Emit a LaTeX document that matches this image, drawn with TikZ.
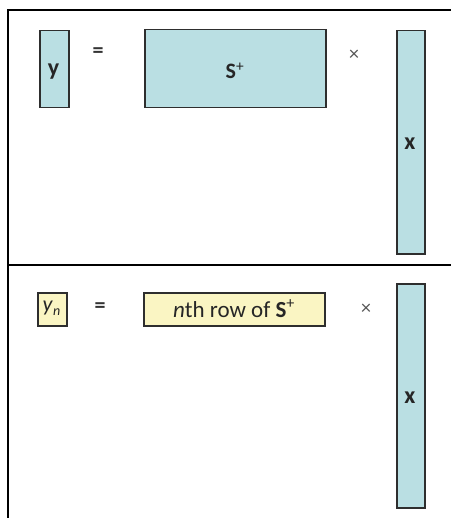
\documentclass[tikz,border=0pt]{standalone}
\usepackage{fontspec}
\setmainfont{Carlito}
\definecolor{matblue}{HTML}{BADFE3}
\definecolor{rowyel}{HTML}{FAF5C3}
\definecolor{edge}{HTML}{2E2E2E}
\definecolor{opgray}{HTML}{555555}
\begin{document}
\begin{tikzpicture}[x=1pt,y=-1pt,
  box/.style={draw=edge,line width=1.5pt,inner sep=0pt,anchor=north west},
  bluebox/.style={box,fill=matblue},
  yelbox/.style={box,fill=rowyel},
  lab/.style={inner sep=0pt,text=black!85,font=\fontsize{24}{28}\selectfont\bfseries},
  eqsign/.style={inner sep=0pt,text=black!80,font=\fontsize{22}{26}\selectfont\bfseries},
  timesign/.style={inner sep=0pt,text=opgray,font=\fontsize{20}{24}\selectfont},
  frame/.style={line width=2.6pt,black}]
\useasboundingbox (0,0) rectangle (450,518);
% frame
\coordinate (ftl) at (8,10);
\coordinate (ftr) at (452,10);
\coordinate (fbl) at (8,520);
\coordinate (fml) at (8,265);
\coordinate (fmr) at (452,265);
\draw[frame] (ftr) -- (ftl) -- (fbl);
\draw[frame] (fml) -- (fmr);
% top section
\node[bluebox,minimum width=29pt,minimum height=77pt] (yvec) at (39,30) {};
\node[lab] (ylab) at (53.5,72) {y};
\node[eqsign] (eq1) at (98,53) {=};
\node[bluebox,minimum width=181pt,minimum height=78pt] (Smat) at (144,29) {};
\node[lab,font=\fontsize{22}{26}\selectfont] (Slab) at (235,71) {\textbf{S}\textsuperscript{+}};
\node[timesign] (times1) at (354,55) {×};
\node[bluebox,minimum width=28pt,minimum height=223pt] (xvec1) at (396,30) {};
\node[lab] (xlab1) at (410,144) {x};
% bottom section
\node[yelbox,minimum width=29pt,minimum height=33pt] (yn) at (37,292) {};
\node[lab,font=\fontsize{22}{26}\selectfont] (ynlab) at (51.5,308.5) {\textit{y}\raisebox{-0.4ex}{\fontsize{14}{16}\selectfont\textit{n}}};
\node[eqsign] (eq2) at (100,308) {=};
\node[yelbox,minimum width=181pt,minimum height=33pt] (row) at (143,292) {};
\node[lab,font=\fontsize{23}{27}\selectfont] (rowlab) at (234,308.5) {\textit{n}th row of \textbf{S}\textsuperscript{+}};
\node[timesign] (times2) at (366,309) {×};
\node[bluebox,minimum width=28pt,minimum height=224pt] (xvec2) at (396,283) {};
\node[lab] (xlab2) at (410,398) {x};
\end{tikzpicture}
\end{document}
